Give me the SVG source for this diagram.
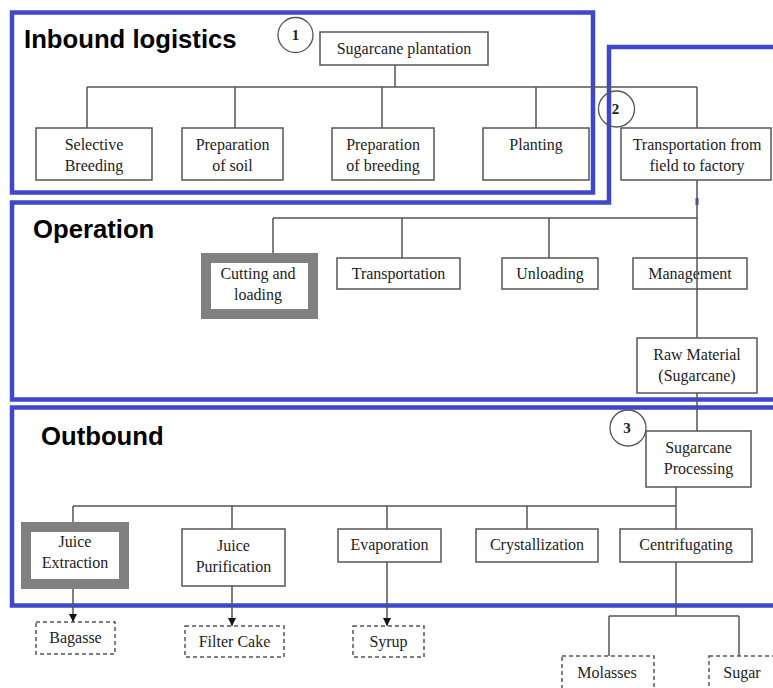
<svg xmlns="http://www.w3.org/2000/svg" width="773" height="688" viewBox="0 0 773 688">
<defs>
<style>
.frame{fill:none;stroke:#3f48cc;stroke-width:4.5}
.box{fill:#fff;stroke:#555;stroke-width:1.5}
.open{fill:none;stroke:#555;stroke-width:1.5}
.thick{fill:#fff;stroke:#808080;stroke-width:10}
.dash{fill:#fff;stroke:#555;stroke-width:1.5;stroke-dasharray:4 3}
.num{fill:none;stroke:#555;stroke-width:1.3}
.t{font-family:'Liberation Serif','Times New Roman',serif;font-size:16px;fill:#222;text-anchor:middle}
.nb{font-family:'Liberation Serif','Times New Roman',serif;font-size:15px;font-weight:bold;fill:#222;text-anchor:middle}
.h{font-family:'Liberation Sans',Arial,sans-serif;font-weight:bold;font-size:25.7px;fill:#000}
.ln{fill:none;stroke:#555;stroke-width:1.5}
</style>
<marker id="arr" viewBox="0 0 8 8" refX="8" refY="4" markerWidth="8" markerHeight="8" markerUnits="userSpaceOnUse" orient="auto">
<path d="M0,0 L8,4 L0,8 Z" fill="#111"/>
</marker>
</defs>
<rect width="773" height="688" fill="#fff"/>

<g id="frames">
<rect class="frame" x="12" y="12.5" width="581" height="180"/>
<path class="frame" d="M12,202.5 H609 V47 H790 V399.5 H12 Z"/>
<rect class="frame" x="12" y="407.5" width="790" height="198"/>
<rect x="695.5" y="198" width="3" height="7" fill="#3f48cc"/>
<text class="h" x="24" y="48">Inbound logistics</text>
<text class="h" x="33" y="238">Operation</text>
<text class="h" x="41" y="445">Outbound</text>
</g>

<g id="nodes">
<g id="c1"><circle class="num" cx="295.5" cy="35" r="17.5"/><text class="nb" x="295.5" y="40">1</text></g>
<g id="c2"><circle class="num" cx="616.5" cy="109" r="18"/><text class="nb" x="615.5" y="114">2</text></g>
<g id="c3"><circle class="num" cx="628" cy="428" r="18"/><text class="nb" x="627" y="433">3</text></g>

<g id="plantation"><rect class="box" x="320" y="32" width="168" height="33"/><text class="t" x="404" y="54">Sugarcane plantation</text></g>
<g id="selective"><rect class="box" x="36" y="128" width="116" height="52"/><text class="t" x="94" y="150">Selective</text><text class="t" x="94" y="171">Breeding</text></g>
<g id="prepsoil"><rect class="box" x="182" y="128" width="101" height="52"/><text class="t" x="232.5" y="150">Preparation</text><text class="t" x="232.5" y="171">of soil</text></g>
<g id="prepbreed"><rect class="box" x="332" y="128" width="102" height="52"/><text class="t" x="383" y="150">Preparation</text><text class="t" x="383" y="171">of breeding</text></g>
<g id="planting"><rect class="box" x="483" y="128" width="106" height="52"/><text class="t" x="536" y="150">Planting</text></g>
<g id="transfield"><rect class="box" x="621" y="128" width="150" height="52"/><text class="t" x="697" y="150">Transportation from</text><text class="t" x="697" y="171">field to factory</text></g>

<g id="cutting"><rect class="thick" x="206" y="258" width="107" height="56"/><text class="t" x="258" y="279">Cutting and</text><text class="t" x="258" y="300">loading</text></g>
<g id="transport"><rect class="box" x="337" y="258" width="123" height="31"/><text class="t" x="398.5" y="279">Transportation</text></g>
<g id="unloading"><rect class="box" x="502" y="258" width="96" height="31"/><text class="t" x="550" y="279">Unloading</text></g>
<g id="management"><rect class="open" x="633" y="258" width="114" height="31"/><text class="t" x="690" y="279">Management</text></g>
<g id="rawmaterial"><rect class="box" x="637" y="338" width="120" height="55"/><text class="t" x="697" y="360">Raw Material</text><text class="t" x="697" y="381">(Sugarcane)</text></g>

<g id="processing"><rect class="box" x="646" y="431" width="105" height="56"/><text class="t" x="698.5" y="453">Sugarcane</text><text class="t" x="698.5" y="474">Processing</text></g>
<g id="extraction"><rect class="thick" x="26" y="527" width="98" height="57"/><text class="t" x="75" y="547">Juice</text><text class="t" x="75" y="568">Extraction</text></g>
<g id="purification"><rect class="box" x="182" y="529" width="103" height="57"/><text class="t" x="233.5" y="551">Juice</text><text class="t" x="233.5" y="572">Purification</text></g>
<g id="evaporation"><rect class="box" x="338" y="529" width="103" height="33"/><text class="t" x="389.5" y="550">Evaporation</text></g>
<g id="crystallization"><rect class="box" x="476" y="529" width="122" height="33"/><text class="t" x="537" y="550">Crystallization</text></g>
<g id="centrifugating"><rect class="box" x="620" y="529" width="132" height="33"/><text class="t" x="686" y="550">Centrifugating</text></g>

<g id="bagasse"><rect class="dash" x="36" y="622" width="79" height="32"/><text class="t" x="75.5" y="643">Bagasse</text></g>
<g id="filtercake"><rect class="dash" x="185" y="626" width="99" height="31"/><text class="t" x="234.5" y="647">Filter Cake</text></g>
<g id="syrup"><rect class="dash" x="353" y="626" width="71" height="31"/><text class="t" x="388.5" y="647">Syrup</text></g>
<g id="molasses"><rect class="dash" x="562" y="656" width="92" height="40"/><text class="t" x="607" y="678">Molasses</text></g>
<g id="sugar"><rect class="dash" x="709" y="656" width="80" height="40"/><text class="t" x="742" y="678">Sugar</text></g>
</g>

<g id="connectors">
<path class="ln" d="M395,65 V87 M87,87 H697 M87,87 V128 M235,87 V128 M382,87 V128 M536,87 V128 M697,87 V128"/>
<path class="ln" d="M697,180 V338 M273,218 H697 M273,218 V253 M402,218 V258 M549,218 V258"/>
<path class="ln" d="M697,393 V431"/>
<path class="ln" d="M676,487 V529 M73,506 H676 M73,506 V522 M232,506 V529 M387,506 V529 M527,506 V529"/>
<path class="ln" d="M676,562 V616 M609,616 H739 M609,616 V656 M739,616 V656"/>
<path class="ln" d="M73,589 V622" marker-end="url(#arr)"/>
<path class="ln" d="M232,586 V626" marker-end="url(#arr)"/>
<path class="ln" d="M387,562 V626" marker-end="url(#arr)"/>
</g>
</svg>
